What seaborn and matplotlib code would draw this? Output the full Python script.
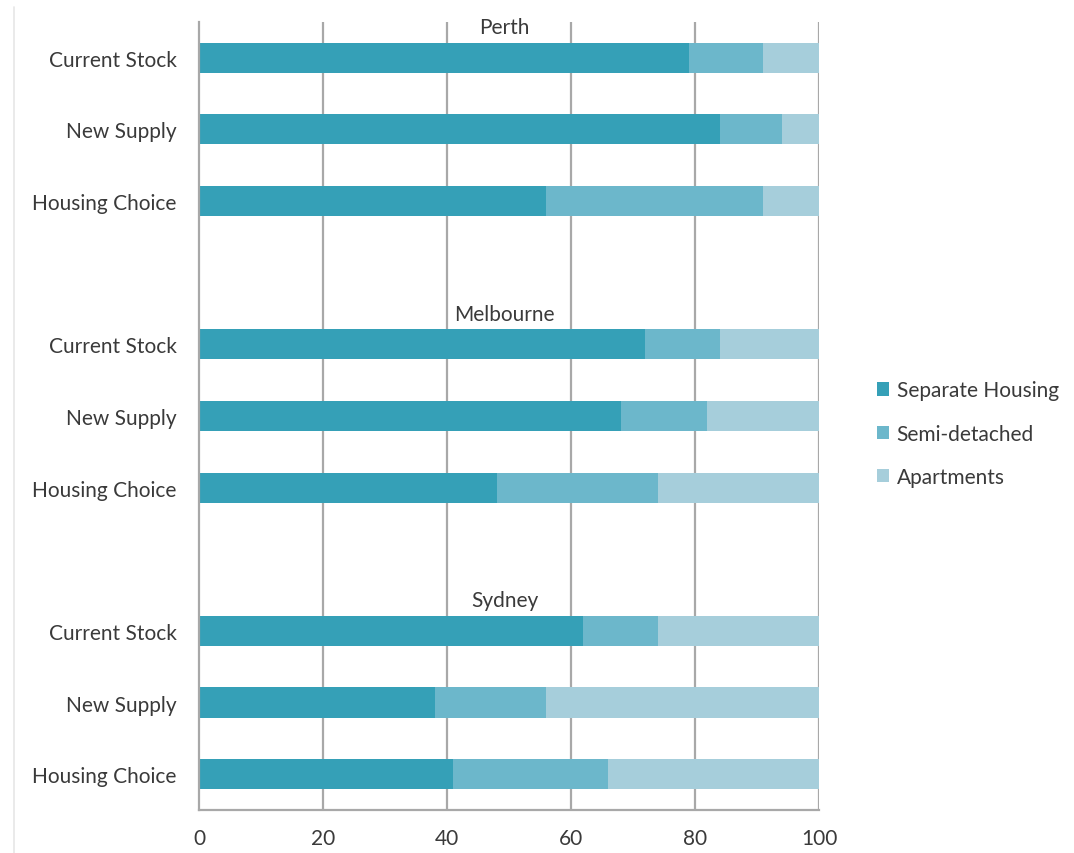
import matplotlib
matplotlib.use("Agg")
import matplotlib.pyplot as plt
from matplotlib.lines import Line2D
from matplotlib.patches import Patch
import seaborn as sns
import pandas as pd

# Housing mix by city (% of dwellings)
cities = ["Perth", "Melbourne", "Sydney"]
measures = ["Current Stock", "New Supply", "Housing Choice"]
separate = [79, 84, 56, 72, 68, 48, 62, 38, 41]
semi = [12, 10, 35, 12, 14, 26, 12, 18, 25]
apartments = [9, 6, 9, 16, 18, 26, 26, 44, 34]
series_names = ["Separate Housing", "Semi-detached", "Apartments"]
x_ticks = [0, 20, 40, 60, 80, 100]

colors = ["#35a0b7", "#6cb7cb", "#a6cedb"]
text_color = "#3a3a3a"
axis_color = "#a8a8a8"

sns.set_theme(style="white")
plt.rcParams["font.family"] = ["Lato", "DejaVu Sans"]

rows = []
for ci, city in enumerate(cities):
    for mi, m in enumerate(measures):
        k = ci * 3 + mi
        rows.append({"key": f"{city}|{m}", "city": city, "measure": m,
                     "separate": separate[k], "semi": semi[k], "apartments": apartments[k]})
df = pd.DataFrame(rows)
df["cum_semi"] = df["separate"] + df["semi"]
df["cum_apt"] = df["cum_semi"] + df["apartments"]

# category order with an empty slot between cities
order = []
for ci, city in enumerate(cities):
    order += [f"{city}|{m}" for m in measures]
    if ci < len(cities) - 1:
        order.append(f"gap{ci}")

fig = plt.figure(figsize=(10.74, 8.54), dpi=100)
ax = fig.add_axes([0.1853, 0.0504, 0.5773, 0.9227])

bar_w = 0.42
for col, c in zip(["cum_apt", "cum_semi", "separate"], colors[::-1]):
    sns.barplot(data=df, x=col, y="key", order=order, orient="h", color=c,
                width=bar_w, saturation=1, ax=ax, edgecolor="none", linewidth=0)

ax.set_xlim(0, 100)
ax.set_ylim(len(order) - 0.5, -0.5)
ax.set_xlabel("")
ax.set_ylabel("")

# x axis
ax.set_xticks(x_ticks)
ax.set_xticklabels([str(t) for t in x_ticks], fontsize=15, color=text_color)
ax.tick_params(axis="x", direction="out", length=6, width=1.5, color=axis_color, pad=7)
for t in x_ticks[1:]:
    ax.axvline(t, color=axis_color, lw=1.6, zorder=0)

# y axis: ticks at category boundaries, labels at centres
bounds = [i - 0.5 for i in range(len(order) + 1)]
ax.set_yticks(bounds)
ax.set_yticklabels([])
ax.tick_params(axis="y", which="major", direction="out", length=7, width=1.5,
               color=axis_color)
centers = [i for i, k in enumerate(order) if not k.startswith("gap")]
labels = [order[i].split("|")[1] for i in centers]
ax.set_yticks(centers, minor=True)
ax.set_yticklabels(labels, minor=True, fontsize=15, color=text_color)
ax.tick_params(axis="y", which="minor", length=0, pad=16)

for s in ["top", "right"]:
    ax.spines[s].set_visible(False)
for s in ["left", "bottom"]:
    ax.spines[s].set_color(axis_color)
    ax.spines[s].set_linewidth(1.6)

# city titles above each group
for city in cities:
    pos = order.index(f"{city}|{measures[0]}")
    ax.text(49.3, pos - 0.43, city, ha="center", va="center", fontsize=15,
            color=text_color, zorder=5)

handles = [Patch(facecolor=c, edgecolor="none") for c in colors]
fig.legend(handles, series_names, loc="center left", bbox_to_anchor=(0.799, 0.491),
           frameon=False, fontsize=15, handlelength=0.6, handleheight=0.6,
           handletextpad=0.35, labelspacing=1.12, labelcolor=text_color)

fig.add_artist(Line2D([14 / 1074, 14 / 1074], [0, 1 - 8 / 854],
                      transform=fig.transFigure, color="#e6e6e6", lw=1.2))

fig.savefig("out.png", dpi=100, facecolor="white")
